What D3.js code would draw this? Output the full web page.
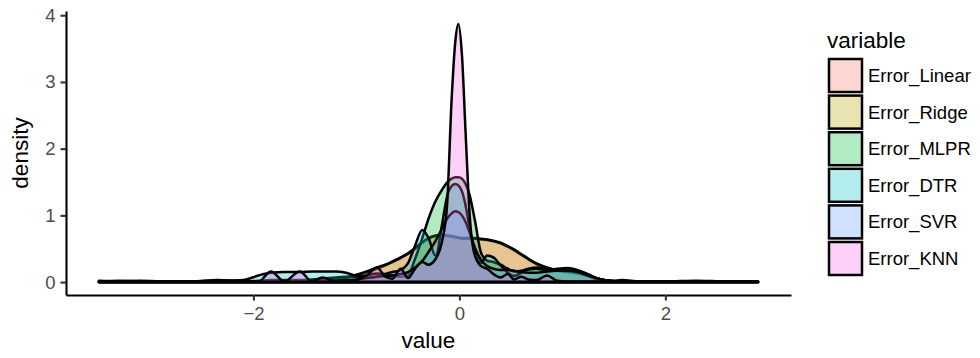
<!DOCTYPE html>
<html>
<head>
<meta charset="utf-8">
<script src="https://cdn.jsdelivr.net/npm/d3@7"></script>
<style>
body { margin: 0; background: #fff; }
svg { display: block; font-family: "Liberation Sans", Arial, Helvetica, sans-serif; }
</style>
</head>
<body>
<script>
// grille des valeurs (axe x)
const xGrid = [-3.5, -3.3, -3.1, -2.9, -2.6, -2.35, -2.1, -1.95,
  -1.83, -1.7, -1.55, -1.43, -1.33, -1.2, -1.1, -1.0, -0.9, -0.8, -0.72, -0.65,
  -0.57, -0.5, -0.43, -0.36, -0.3, -0.23, -0.17, -0.12, -0.075, -0.04, -0.01, 0.025, 0.06, 0.1, 0.15, 0.21, 0.27, 0.33, 0.4, 0.47, 0.53,
  0.6, 0.67, 0.75, 0.85, 0.95, 1.05, 1.15, 1.25, 1.35, 1.45, 1.58, 1.75, 2.0, 2.3, 2.6, 2.9]

// densités estimées pour chaque variable
const errLinear = [0.02, 0.01, 0.01, 0.01, 0.01, 0.01, 0.01, 0.01,
  0.01, 0.01, 0.01, 0.01, 0.02, 0.03, 0.06, 0.1, 0.15, 0.2, 0.25, 0.3,
  0.36, 0.42, 0.5, 0.59, 0.65, 0.69, 0.7, 0.69, 0.68, 0.67, 0.66, 0.65, 0.65, 0.65, 0.65, 0.64, 0.63, 0.61, 0.58, 0.53, 0.48,
  0.41, 0.34, 0.27, 0.21, 0.17, 0.15, 0.13, 0.09, 0.05, 0.02, 0.01, 0.01, 0.01, 0.01, 0.01, 0.01]

const errRidge = [0.01, 0.02, 0.01, 0.01, 0.01, 0.02, 0.01, 0.01,
  0.01, 0.01, 0.01, 0.02, 0.02, 0.04, 0.07, 0.11, 0.16, 0.22, 0.26, 0.31,
  0.37, 0.43, 0.51, 0.6, 0.66, 0.7, 0.71, 0.7, 0.69, 0.68, 0.67, 0.66, 0.66, 0.66, 0.66, 0.65, 0.64, 0.62, 0.59, 0.54, 0.49,
  0.42, 0.35, 0.28, 0.22, 0.18, 0.16, 0.14, 0.1, 0.05, 0.02, 0.01, 0.01, 0.01, 0.02, 0.01, 0.01]

const errMLPR = [0.01, 0.01, 0.01, 0.01, 0.01, 0.01, 0.01, 0.02,
  0.03, 0.03, 0.03, 0.04, 0.05, 0.07, 0.08, 0.08, 0.1, 0.13, 0.12, 0.1,
  0.08, 0.1, 0.35, 0.66, 0.95, 1.22, 1.38, 1.49, 1.55, 1.57, 1.57, 1.55, 1.47, 1.3, 0.93, 0.44, 0.32, 0.3, 0.26, 0.2, 0.16,
  0.17, 0.2, 0.22, 0.2, 0.19, 0.19, 0.15, 0.09, 0.04, 0.02, 0.01, 0.01, 0.01, 0.01, 0.01, 0.01]

const errDTR = [0.01, 0.01, 0.02, 0.01, 0.01, 0.02, 0.03, 0.1,
  0.14, 0.15, 0.15, 0.16, 0.16, 0.16, 0.14, 0.09, 0.06, 0.08, 0.12, 0.15,
  0.18, 0.28, 0.55, 0.78, 0.66, 0.39, 0.85, 1.28, 1.44, 1.47, 1.45, 1.36, 1.15, 0.8, 0.45, 0.29, 0.4, 0.37, 0.25, 0.14, 0.09,
  0.14, 0.19, 0.2, 0.18, 0.2, 0.21, 0.18, 0.12, 0.05, 0.02, 0.01, 0.01, 0.01, 0.01, 0.01, 0.01]

const errSVR = [0.01, 0.01, 0.01, 0.01, 0.01, 0.01, 0.01, 0.01,
  0.01, 0.01, 0.01, 0.01, 0.01, 0.02, 0.03, 0.04, 0.06, 0.08, 0.09, 0.1,
  0.12, 0.15, 0.22, 0.32, 0.45, 0.62, 0.8, 0.95, 1.03, 1.06, 1.05, 1.0, 0.9, 0.74, 0.52, 0.33, 0.24, 0.2, 0.18, 0.18, 0.17,
  0.15, 0.14, 0.14, 0.16, 0.17, 0.17, 0.15, 0.1, 0.05, 0.02, 0.01, 0.01, 0.01, 0.01, 0.01, 0.01]

const errKNN = [0.01, 0.01, 0.01, 0.01, 0.01, 0.03, 0.01, 0.01,
  0.16, 0.01, 0.16, 0.01, 0.07, 0.01, 0.01, 0.03, 0.1, 0.22, 0.08, 0.05,
  0.2, 0.06, 0.2, 0.3, 0.26, 0.35, 0.6, 1.15, 2.75, 3.6, 3.87, 3.4, 2.25, 1.0, 0.4, 0.24, 0.2, 0.12, 0.07, 0.12, 0.04,
  0.08, 0.04, 0.03, 0.1, 0.02, 0.01, 0.01, 0.01, 0.01, 0.01, 0.03, 0.01, 0.01, 0.01, 0.01, 0.01]

const varNames = ["Error_Linear", "Error_Ridge", "Error_MLPR", "Error_DTR", "Error_SVR", "Error_KNN"]
const varColors = ["#F8766D", "#B79F00", "#00BA38", "#00BFC4", "#619CFF", "#F564E3"]
const xTicks = [-2, 0, 2]
const yTicks = [0, 1, 2, 3, 4]

const allValues = [errLinear, errRidge, errMLPR, errDTR, errSVR, errKNN]
const series = varNames.map((name, i) => ({
  name: name,
  color: varColors[i],
  points: xGrid.map((x, j) => ({ x: x, y: allValues[i][j] }))
}))


// canva SVG
const svg = d3.select("body")
  .append("svg")
  .attr("width", 980)
  .attr("height", 358)

const panel = { left: 66, right: 791, top: 11, bottom: 295 }

// échelles avec l'expansion de 5% comme ggplot
const xExt = d3.extent(xGrid)
const xPad = (xExt[1] - xExt[0]) * 0.05
const x = d3.scaleLinear()
  .domain([xExt[0] - xPad, xExt[1] + xPad])
  .range([panel.left, panel.right])

const yMax = d3.max(allValues, v => d3.max(v))
const yPad = yMax * 0.05
const y = d3.scaleLinear()
  .domain([-yPad, yMax + yPad])
  .range([panel.bottom, panel.top])


// les densités
const area = d3.area()
  .x(d => x(d.x))
  .y0(y(0))
  .y1(d => y(d.y))
  .curve(d3.curveMonotoneX)

svg.append("g")
  .selectAll("path")
  .data(series)
  .enter()
  .append("path")
    .attr("d", d => area(d.points))
    .attr("fill", d => d.color)
    .attr("fill-opacity", 0.3)
    .attr("stroke", "black")
    .attr("stroke-width", 2.5)
    .attr("stroke-linejoin", "round")


// axes
const fmt = d3.format("d")

const xAxis = svg.append("g")
  .attr("transform", `translate(0,${panel.bottom})`)
  .call(d3.axisBottom(x).tickValues(xTicks).tickFormat(fmt).tickSize(5.5).tickSizeOuter(0).tickPadding(6))

const yAxis = svg.append("g")
  .attr("transform", `translate(${panel.left},0)`)
  .call(d3.axisLeft(y).tickValues(yTicks).tickFormat(fmt).tickSize(5.5).tickSizeOuter(0).tickPadding(5))

for (const ax of [xAxis, yAxis]) {
  ax.select(".domain").attr("stroke", "black").attr("stroke-width", 2.1)
  ax.selectAll(".tick line").attr("stroke", "#333333").attr("stroke-width", 2.1)
  ax.selectAll(".tick text")
    .attr("fill", "#4D4D4D")
    .style("font-size", "18.5px")
    .style("font-family", "'Liberation Sans', Arial, sans-serif")
}

svg.append("text")
  .attr("x", (panel.left + panel.right) / 2)
  .attr("y", 348)
  .attr("text-anchor", "middle")
  .style("font-size", "22.5px")
  .text("value")

svg.append("text")
  .attr("transform", `translate(28,${(panel.top + panel.bottom) / 2}) rotate(-90)`)
  .attr("text-anchor", "middle")
  .style("font-size", "22.5px")
  .text("density")


// légende
const legend = svg.append("g")

legend.append("text")
  .attr("x", 827)
  .attr("y", 48)
  .style("font-size", "22.5px")
  .text("variable")

const keys = legend.selectAll(".key")
  .data(series)
  .enter()
  .append("g")
    .attr("class", "key")
    .attr("transform", (d, i) => `translate(828,${58 + i * 36.6})`)

keys.append("rect")
  .attr("x", 1)
  .attr("y", 1)
  .attr("width", 33)
  .attr("height", 33)
  .attr("fill", d => d.color)
  .attr("fill-opacity", 0.3)
  .attr("stroke", "black")
  .attr("stroke-width", 2.5)

keys.append("text")
  .attr("x", 40)
  .attr("y", 17.5)
  .attr("dy", "0.35em")
  .style("font-size", "18.5px")
  .text(d => d.name)
</script>
</body>
</html>
